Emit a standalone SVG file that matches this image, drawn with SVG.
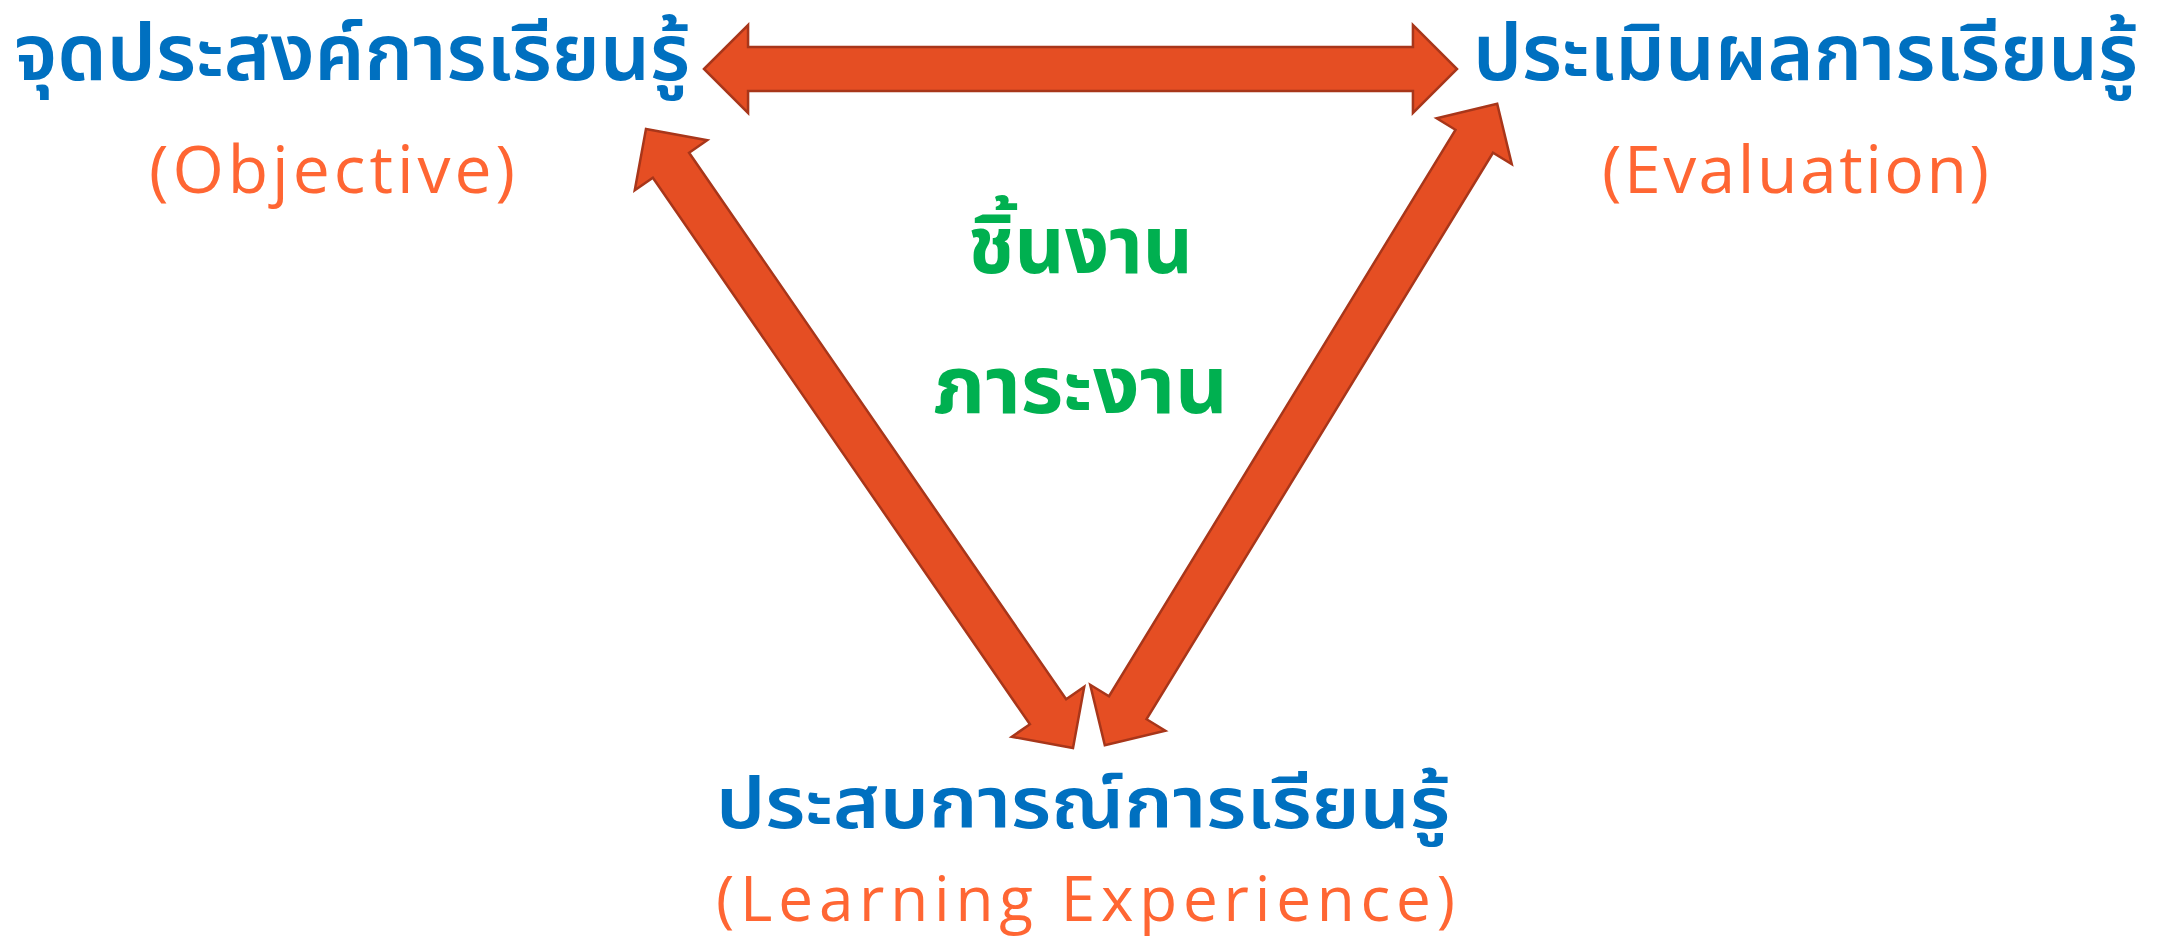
<svg xmlns="http://www.w3.org/2000/svg" xmlns:xlink="http://www.w3.org/1999/xlink" width="2166" height="937" viewBox="0 0 2166 937">
<style>
.th{font-family:"Noto Sans Thai","Noto Sans Thai Looped","Loma","Garuda","Norasi","Tlwg Typo","Noto Sans",sans-serif;font-weight:600}
.blue{fill:#0070C0;font-size:78px}
.en{font-family:"Open Sans","Liberation Sans",sans-serif;fill:#FF6633;font-size:66px;font-weight:500}
.green{fill:#00B050;font-size:80px;font-weight:bold}
.arrow{fill:#E54E23;stroke:#A8361A;stroke-width:2.5;stroke-linejoin:miter}
</style>
<defs>
<path id="dbl" d="M-376,0 L-332,-44 L-332,-22 L332,-22 L332,-44 L376,0 L332,44 L332,22 L-332,22 L-332,44 Z"/>
</defs>
<rect width="2166" height="937" fill="#ffffff"/>
<g id="connectors">
<use xlink:href="#dbl" class="arrow" transform="translate(1080.5,69) scale(1.0013,1)"/>
<use xlink:href="#dbl" class="arrow" transform="translate(859.5,438.5) rotate(55.4)"/>
<use xlink:href="#dbl" class="arrow" transform="translate(1301,424.5) rotate(-58.55)"/>
</g>
<g id="objective">
<text class="th blue" x="14" y="80" textLength="676" lengthAdjust="spacingAndGlyphs">จุดประสงค์การเรียนรู้</text>
<text class="en" x="149" y="193" textLength="366" lengthAdjust="spacing">(Objective)</text>
</g>
<g id="evaluation">
<text class="th blue" x="1473" y="80" textLength="665" lengthAdjust="spacingAndGlyphs">ประเมินผลการเรียนรู้</text>
<text class="en" x="1602" y="193" textLength="387" lengthAdjust="spacing">(Evaluation)</text>
</g>
<g id="experience">
<text class="th blue" x="716" y="828" font-size="72" textLength="734" lengthAdjust="spacingAndGlyphs" style="font-size:72px">ประสบการณ์การเรียนรู้</text>
<text class="en" x="716" y="921" textLength="739" lengthAdjust="spacing" style="font-size:62px">(Learning Experience)</text>
</g>
<g id="task">
<text class="th green" x="968" y="273" textLength="225" lengthAdjust="spacingAndGlyphs">ชิ้นงาน</text>
<text class="th green" x="933" y="413" textLength="295" lengthAdjust="spacingAndGlyphs">ภาระงาน</text>
</g>
</svg>
